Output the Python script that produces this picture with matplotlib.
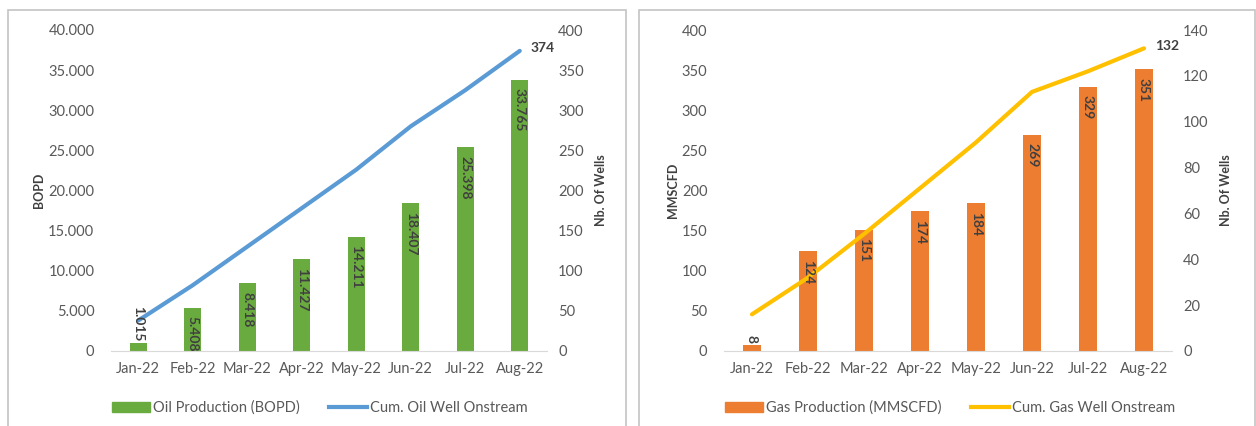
import numpy as np
import matplotlib.pyplot as plt
import matplotlib.ticker as ticker
from matplotlib.patches import Rectangle
from matplotlib.lines import Line2D

plt.rcParams["font.family"] = ["Lato", "DejaVu Sans"]

# ─── Data ─────────────────────────────────────────────────────────────────────
MONTHS = ["Jan-22", "Feb-22", "Mar-22", "Apr-22", "May-22", "Jun-22", "Jul-22", "Aug-22"]

OIL_BOPD   = [1015, 5408, 8418, 11427, 14211, 18407, 25398, 33765]
OIL_WELLS  = [38, 82, 130, 178, 226, 280, 325, 374]

GAS_MMSCFD = [8, 124, 151, 174, 184, 269, 329, 351]
GAS_WELLS  = [16, 32, 51, 71, 91, 113, 122, 132]

# ─── Style ────────────────────────────────────────────────────────────────────
TXT = "#595959"
LBL = "#404040"
W, H = 1256, 426


def dot_thousands(v, _pos=None):
    return f"{int(round(v)):,}".replace(",", ".")


def draw_panel(rect, bars, line, bar_col, line_col, y1max, y1step, y2max, y2step,
               y1label, fmt_bar, bar_name, line_name, bar_w, leg_x):
    ax = fig.add_axes(rect)
    x = np.arange(len(MONTHS))
    ax.bar(x, bars, width=bar_w, color=bar_col, zorder=2)
    ax.set_xlim(-0.5, len(MONTHS) - 0.5)
    ax.set_ylim(0, y1max)
    ax.yaxis.set_major_locator(ticker.MultipleLocator(y1step))
    ax.yaxis.set_major_formatter(ticker.FuncFormatter(dot_thousands))
    ax.set_xticks(x)
    ax.set_xticklabels(MONTHS)
    for s in ("top", "right", "left"):
        ax.spines[s].set_visible(False)
    ax.spines["bottom"].set_color("#d9d9d9")
    ax.tick_params(axis="both", length=0, colors=TXT, labelsize=10.5)
    ax.tick_params(axis="y", pad=12)
    ax.tick_params(axis="x", pad=8)
    ax.set_ylabel(y1label, fontsize=9, fontweight="bold", color=LBL, labelpad=2)

    ax2 = ax.twinx()
    ax2.plot(x, line, color=line_col, lw=3.0, solid_capstyle="round", zorder=3)
    ax2.set_ylim(0, y2max)
    ax2.yaxis.set_major_locator(ticker.MultipleLocator(y2step))
    for s in ax2.spines.values():
        s.set_visible(False)
    ax2.tick_params(axis="y", length=0, colors=TXT, labelsize=10.5, pad=8)
    ax2.set_ylabel("Nb. Of Wells", fontsize=9, fontweight="bold", color=LBL,
                   rotation=90, labelpad=8)
    ax2.annotate(str(line[-1]), (x[-1], line[-1]), xytext=(8, 2),
                 textcoords="offset points", ha="left", va="center",
                 fontsize=10, fontweight="bold", color=LBL)

    # bar value labels, rotated, inside end (above if too short); drawn over the line
    for xi, v in zip(x, bars):
        txt = fmt_bar(v)
        if v / y1max > 0.12:
            ax2.annotate(txt, (xi, v), xycoords=ax.transData, xytext=(0, -6),
                         textcoords="offset points", rotation=270, ha="center",
                         va="top", fontsize=10, fontweight="bold", color=LBL, zorder=5)
        else:
            ax2.annotate(txt, (xi, v), xycoords=ax.transData, xytext=(0, 1),
                         textcoords="offset points", rotation=270, ha="center",
                         va="bottom", fontsize=10, fontweight="bold", color=LBL, zorder=5)

    handles = [Rectangle((0, 0), 1, 1, color=bar_col),
               Line2D([0], [0], color=line_col, lw=3)]
    fig.legend(handles, [bar_name, line_name], loc="center",
               bbox_to_anchor=(leg_x, 18 / H), ncol=2, frameon=False,
               fontsize=10.5, labelcolor=TXT, handlelength=2.6,
               handletextpad=0.2, columnspacing=2.0)
    return ax, ax2


fig = plt.figure(figsize=(W / 100, H / 100), dpi=100)

# panel borders
for x0, x1 in ((8, 626), (639, 1255)):
    fig.patches.append(Rectangle((x0 / W, -0.05), (x1 - x0) / W, (H - 9.5) / H + 0.05,
                                 transform=fig.transFigure, fill=False,
                                 edgecolor="#c4c4c4", lw=1.2))

draw_panel([111 / W, 75 / H, 436 / W, 321 / H], OIL_BOPD, OIL_WELLS,
           "#6aab3f", "#5b9bd5", 40000, 5000, 400, 50, "BOPD",
           dot_thousands, "Oil Production (BOPD)", "Cum. Oil Well Onstream",
           0.31, 320 / W)

draw_panel([724 / W, 75 / H, 448 / W, 321 / H], GAS_MMSCFD, GAS_WELLS,
           "#ed7d31", "#ffc000", 400, 50, 140, 20, "MMSCFD",
           lambda v: str(v), "Gas Production (MMSCFD)", "Cum. Gas Well Onstream",
           0.33, 950 / W)

fig.savefig("out.png", dpi=100)
